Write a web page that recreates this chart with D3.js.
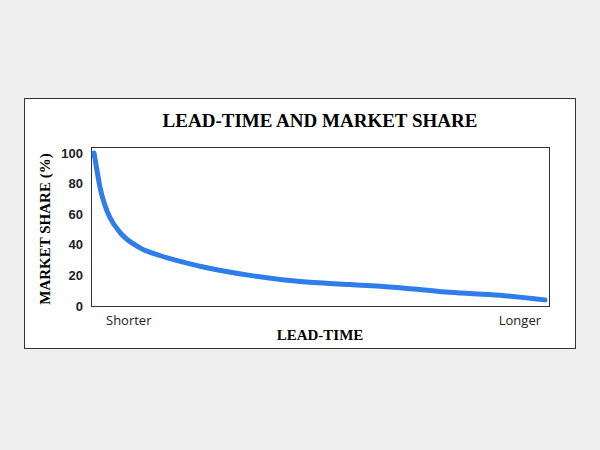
<!DOCTYPE html>
<html>
<head>
<meta charset="utf-8">
<script src="https://cdn.jsdelivr.net/npm/d3@7"></script>
<style>
body{margin:0;background:#efefef;}
</style>
</head>
<body>
<script>
// lead-time position (0 = shorter, 100 = longer) and market share (%)
var leadTime = [0, 0.7, 1.3, 2.4, 3.5, 5.8, 10.2, 14.6, 23.5, 34.6, 45.7, 56.8, 67.8, 78.9, 90, 100];
var share    = [100, 88, 78, 66, 58, 48, 38, 33, 26, 20, 16, 14, 12, 9, 7, 4];
var yTicks   = [0, 20, 40, 60, 80, 100];

var svg = d3.select("body").append("svg")
	.attr("width", 600)
	.attr("height", 450);

svg.append("rect")
	.attr("x", 24.5).attr("y", 98.5)
	.attr("width", 551).attr("height", 250)
	.attr("fill", "white").attr("stroke", "#333");

svg.append("text")
	.attr("x", 320).attr("y", 127)
	.attr("text-anchor", "middle")
	.style("font", "bold 19px 'Liberation Serif', serif")
	.text("LEAD-TIME AND MARKET SHARE");

var x = d3.scaleLinear().domain([0, 100]).range([94, 545]);
var y = d3.scaleLinear().domain([0, 100]).range([306, 153]);

// plot frame
svg.append("rect")
	.attr("x", 91.5).attr("y", 147.5)
	.attr("width", 458).attr("height", 159)
	.attr("fill", "none").attr("stroke", "#333").attr("stroke-width", 1);

var yAxis = svg.append("g")
	.attr("transform", "translate(91,0)")
	.call(d3.axisLeft(y).tickValues(yTicks).tickSize(0).tickPadding(8));
yAxis.select(".domain").remove();
yAxis.selectAll("text")
	.style("font", "bold 13px 'Liberation Sans', Arial, sans-serif")
	.attr("fill", "#222");

svg.append("text")
	.attr("transform", "translate(50,229) rotate(-90)")
	.attr("text-anchor", "middle")
	.style("font", "bold 15px 'Liberation Serif', serif")
	.text("MARKET SHARE (%)");

svg.append("text")
	.attr("x", 320).attr("y", 340)
	.attr("text-anchor", "middle")
	.style("font", "bold 15px 'Liberation Serif', serif")
	.text("LEAD-TIME");

svg.append("text")
	.attr("x", 106).attr("y", 325)
	.style("font", "13px 'Open Sans', sans-serif").attr("fill", "#222")
	.text("Shorter");
svg.append("text")
	.attr("x", 541).attr("y", 325)
	.attr("text-anchor", "end")
	.style("font", "13px 'Open Sans', sans-serif").attr("fill", "#222")
	.text("Longer");

var pts = leadTime.map(function(d, i){ return [d, share[i]]; });
svg.append("path")
	.datum(pts)
	.attr("d", d3.line().x(function(d){ return x(d[0]); }).y(function(d){ return y(d[1]); }).curve(d3.curveMonotoneX))
	.attr("fill", "none")
	.attr("stroke", "#2f7de8")
	.attr("stroke-width", 5)
	.attr("stroke-linecap", "round");
</script>
</body>
</html>
